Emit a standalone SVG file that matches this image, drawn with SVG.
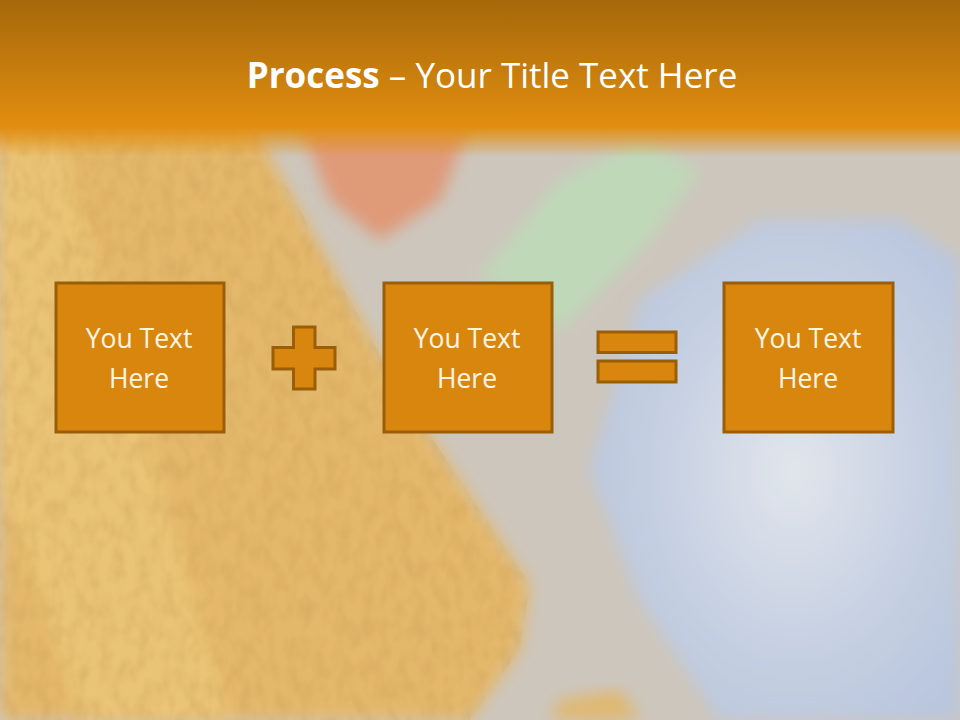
<svg xmlns="http://www.w3.org/2000/svg" width="960" height="720" viewBox="0 0 960 720">
<defs>
<style>
.box{fill:#d9860f;stroke:#9a5e08;stroke-width:3}
.sym{fill:#d9860f;stroke:#9a5e08;stroke-width:3}
.lbl{font-family:"Open Sans","Liberation Sans",sans-serif;font-size:26.5px;fill:#fff6e2;text-anchor:middle}
.ttl{font-family:"Open Sans","Liberation Sans",sans-serif;font-size:35px;fill:#ffffff;text-anchor:middle}
</style>
<linearGradient id="bar" x1="0" y1="0" x2="0" y2="1">
<stop offset="0" stop-color="#a6680a"/>
<stop offset="1" stop-color="#e28e10"/>
</linearGradient>
<linearGradient id="fade" x1="0" y1="0" x2="0" y2="1">
<stop offset="0" stop-color="#e28e10" stop-opacity="1"/>
<stop offset="1" stop-color="#e28e10" stop-opacity="0"/>
</linearGradient>
<radialGradient id="blue" cx="0.55" cy="0.5" r="0.6">
<stop offset="0" stop-color="#e2e6ec"/>
<stop offset="0.6" stop-color="#c6d0e2"/>
<stop offset="1" stop-color="#b9c6de"/>
</radialGradient>
<filter id="blur" x="-20%" y="-20%" width="140%" height="140%"><feGaussianBlur stdDeviation="8"/></filter>
<filter id="tex" x="0" y="0" width="100%" height="100%">
<feTurbulence type="fractalNoise" baseFrequency="0.08 0.05" numOctaves="2" seed="3" result="n"/>
<feColorMatrix in="n" type="matrix" values="0 0 0 0 0.6  0 0 0 0 0.35  0 0 0 0 0.1  0 0 0 -1.6 1.0" result="c"/>
<feComposite in="c" in2="SourceGraphic" operator="in"/>
</filter>
</defs>
<g id="background">
<rect x="0" y="0" width="960" height="720" fill="#cdc6bc"/>
<path d="M0,120 L250,120 L400,390 L530,585 L520,650 L470,720 L0,720 Z" fill="#e4b86a" filter="url(#blur)"/>
<path d="M0,140 L60,140 L230,720 L80,720 L0,480 Z" fill="#efcc7e" opacity="0.6" filter="url(#blur)"/>
<path d="M0,120 L250,120 L400,390 L530,585 L520,650 L470,720 L0,720 Z" fill="#e4b86a" filter="url(#tex)" opacity="0.45"/>
<path d="M300,125 L470,125 L440,200 L380,240 L330,200 Z" fill="#df9a78" filter="url(#blur)"/>
<path d="M480,275 L560,180 L640,140 L700,170 L650,240 L560,330 Z" fill="#bfd8b8" filter="url(#blur)"/>
<path d="M590,470 L640,300 L760,220 L900,220 L960,260 L960,720 L720,720 L640,600 Z" fill="url(#blue)" filter="url(#blur)"/>
<path d="M560,700 L620,690 L640,720 L550,720 Z" fill="#e0b870" filter="url(#blur)"/>
</g>
<g id="title">
<rect x="0" y="0" width="960" height="128" fill="url(#bar)"/>
<rect x="0" y="127" width="960" height="30" fill="url(#fade)"/>
<text class="ttl" x="492" y="88"><tspan font-weight="bold">Process</tspan> – Your Title Text Here</text>
</g>
<g id="node1">
<rect class="box" x="56" y="283" width="168" height="149"/>
<text class="lbl" x="139" y="348">You Text</text>
<text class="lbl" x="139" y="388">Here</text>
</g>
<g id="plus">
<path class="sym" d="M293.5,327 H315 V347.5 H335 V369 H315 V389 H293.5 V369 H273 V347.5 H293.5 Z"/>
</g>
<g id="node2">
<rect class="box" x="384" y="283" width="168" height="149"/>
<text class="lbl" x="467" y="348">You Text</text>
<text class="lbl" x="467" y="388">Here</text>
</g>
<g id="equals">
<rect class="sym" x="598" y="332" width="78" height="20.5"/>
<rect class="sym" x="598" y="361" width="78" height="21"/>
</g>
<g id="node3">
<rect class="box" x="724" y="283" width="169" height="149"/>
<text class="lbl" x="808" y="348">You Text</text>
<text class="lbl" x="808" y="388">Here</text>
</g>
<g id="connectors"/>
</svg>
